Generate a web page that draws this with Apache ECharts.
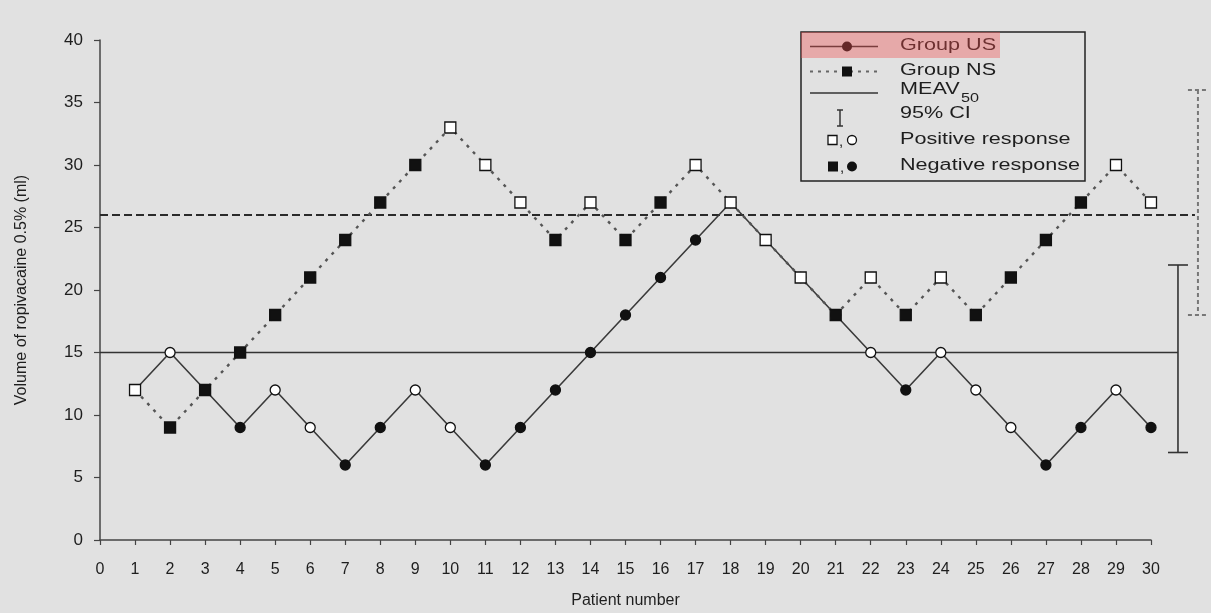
<!DOCTYPE html>
<html>
<head>
<meta charset="utf-8">
<script src="https://cdn.jsdelivr.net/npm/echarts@6/dist/echarts.min.js"></script>
<style>
  html, body { margin: 0; padding: 0; background: #e1e1e1; }
  #chart { width: 1211px; height: 613px; }
</style>
</head>
<body>
<div id="chart"></div>
<script>
// Up-and-down sequence of ropivacaine volumes per patient
const patientNumbers = [1, 2, 3, 4, 5, 6, 7, 8, 9, 10, 11, 12, 13, 14, 15,
                        16, 17, 18, 19, 20, 21, 22, 23, 24, 25, 26, 27, 28, 29, 30];
const usVolume = [12, 15, 12, 9, 12, 9, 6, 9, 12, 9, 6, 9, 12, 15, 18,
                  21, 24, 27, 24, 21, 18, 15, 12, 15, 12, 9, 6, 9, 12, 9];
// 1 = positive response (open marker), 0 = negative response (filled marker)
const usPositive = [1, 1, 0, 0, 1, 1, 0, 0, 1, 1, 0, 0, 0, 0, 0,
                    0, 0, 1, 1, 1, 0, 1, 0, 1, 1, 1, 0, 0, 1, 0];
const nsVolume = [12, 9, 12, 15, 18, 21, 24, 27, 30, 33, 30, 27, 24, 27, 24,
                  27, 30, 27, 24, 21, 18, 21, 18, 21, 18, 21, 24, 27, 30, 27];
const nsPositive = [1, 0, 0, 0, 0, 0, 0, 0, 0, 1, 1, 1, 0, 1, 0,
                    0, 1, 1, 1, 1, 0, 1, 0, 1, 0, 0, 0, 0, 1, 1];
// MEAV50 and its 95% confidence interval per group
const usMeav = 15;
const usCI = [7, 22];
const nsMeav = 26;
const nsCI = [18, 36];
const yTicks = [0, 5, 10, 15, 20, 25, 30, 35, 40];

const INK = '#1e1e1e';
const FONT = '"Liberation Sans", Arial, sans-serif';

function points(values, positive) {
  return patientNumbers.map((p, i) => ({
    value: [p, values[i]],
    itemStyle: { color: positive[i] ? '#ffffff' : '#111111' }
  }));
}

// horizontal positions of the CI bars, just right of the last patient
const US_CI_X = 30.77;
const NS_CI_X = 31.34;

// each entry: MEAV50, CI low, CI high, bar position, group
const summaryData = [
  { value: [usMeav, usCI[0], usCI[1], US_CI_X], group: 'us' },
  { value: [nsMeav, nsCI[0], nsCI[1], NS_CI_X], group: 'ns' }
];

const chart = echarts.init(document.getElementById('chart'), null, { renderer: 'canvas' });

const legendX = 801, legendY = 32;
const txt = (x, y, text, size) => ({
  type: 'text', x: x, y: y, scaleX: 1.35,
  style: { text: text, x: 0, y: 0, fill: INK, font: size + 'px ' + FONT, verticalAlign: 'middle', align: 'left' }
});

chart.setOption({
  backgroundColor: '#e1e1e1',
  animation: false,
  grid: { left: 100, top: 40, width: 1051, height: 500, containLabel: false, outerBoundsMode: 'none' },
  xAxis: {
    type: 'value', min: 0, max: 30, interval: 1,
    name: 'Patient number', nameLocation: 'middle', nameGap: 53,
    nameTextStyle: { fontSize: 16, color: INK, fontFamily: FONT },
    axisLine: { show: true, lineStyle: { color: '#444', width: 1.5 } },
    axisTick: { show: true, length: 5, lineStyle: { color: '#444', width: 1.2 } },
    axisLabel: { fontSize: 16, color: INK, fontFamily: FONT, margin: 22, hideOverlap: false, showMinLabel: true, showMaxLabel: true },
    splitLine: { show: false }
  },
  yAxis: {
    type: 'value', min: yTicks[0], max: yTicks[yTicks.length - 1], interval: 5,
    name: 'Volume of ropivacaine 0.5% (ml)', nameLocation: 'middle', nameGap: 70, nameRotate: 90,
    nameTextStyle: { fontSize: 16, color: INK, fontFamily: FONT },
    axisLine: { show: true, lineStyle: { color: '#444', width: 1.5 } },
    axisTick: { show: true, length: 6, lineStyle: { color: '#444', width: 1.2 } },
    axisLabel: { fontSize: 17, color: INK, fontFamily: FONT, margin: 17, showMinLabel: true, showMaxLabel: true },
    splitLine: { show: false }
  },
  series: [
    {
      // MEAV50 reference lines with their 95% CI bars
      name: 'MEAV50', type: 'custom', clip: false, silent: true, z: 1,
      data: summaryData,
      renderItem: function (params, api) {
        const meav = api.value(0), lo = api.value(1), hi = api.value(2), bx = api.value(3);
        const start = api.coord([0, meav]);
        const end = api.coord([bx, meav]);
        const top = api.coord([bx, hi]);
        const bottom = api.coord([bx, lo]);
        const isNs = summaryData[params.dataIndex].group === 'ns';
        const meavStyle = isNs
          ? { stroke: '#2a2a2a', lineWidth: 2, lineDash: [8, 4] }
          : { stroke: '#333', lineWidth: 1.5 };
        const ciStyle = isNs
          ? { stroke: '#777', lineWidth: 2, lineDash: [4, 3] }
          : { stroke: '#333', lineWidth: 1.6 };
        const half = 10;
        return {
          type: 'group',
          children: [
            { type: 'line', shape: { x1: start[0], y1: start[1], x2: end[0] - (isNs ? 3 : 0), y2: end[1] }, style: meavStyle },
            { type: 'line', shape: { x1: top[0], y1: top[1], x2: bottom[0], y2: bottom[1] }, style: ciStyle },
            { type: 'line', shape: { x1: top[0] - half, y1: top[1], x2: top[0] + half, y2: top[1] }, style: ciStyle },
            { type: 'line', shape: { x1: bottom[0] - half, y1: bottom[1], x2: bottom[0] + half, y2: bottom[1] }, style: ciStyle }
          ]
        };
      }
    },
    {
      name: 'Group US', type: 'line', z: 3,
      data: points(usVolume, usPositive),
      symbol: 'circle', symbolSize: 10, showAllSymbol: true,
      itemStyle: { borderColor: '#111', borderWidth: 1.3 },
      lineStyle: { color: '#3a3a3a', width: 1.6 }
    },
    {
      name: 'Group NS', type: 'line', z: 4,
      data: points(nsVolume, nsPositive),
      symbol: 'rect', symbolSize: 11, showAllSymbol: true,
      itemStyle: { borderColor: '#111', borderWidth: 1.3 },
      lineStyle: { color: '#555', width: 2.4, type: [3, 6] }
    }
  ],
  graphic: [
    {
      type: 'group', z: 10,
      children: [
        { type: 'rect', shape: { x: legendX, y: legendY, width: 284, height: 149 },
          style: { fill: 'none', stroke: '#222', lineWidth: 1.5 } },
        // Group US sample
        { type: 'line', shape: { x1: 810, y1: 46.5, x2: 878, y2: 46.5 }, style: { stroke: '#333', lineWidth: 1.5 } },
        { type: 'circle', shape: { cx: 847, cy: 46.5, r: 5 }, style: { fill: '#111' } },
        txt(900, 46, 'Group US', 16),
        // Group NS sample
        { type: 'line', shape: { x1: 810, y1: 71.5, x2: 878, y2: 71.5 }, style: { stroke: '#666', lineWidth: 2, lineDash: [3, 5] } },
        { type: 'rect', shape: { x: 842, y: 66.5, width: 10, height: 10 }, style: { fill: '#111' } },
        txt(900, 71, 'Group NS', 16),
        // MEAV50 sample
        { type: 'line', shape: { x1: 810, y1: 93, x2: 878, y2: 93 }, style: { stroke: '#333', lineWidth: 1.5 } },
        txt(900, 90, 'MEAV', 16),
        txt(961, 99, '50', 12),
        // 95% CI sample
        { type: 'line', shape: { x1: 840, y1: 110, x2: 840, y2: 126 }, style: { stroke: '#333', lineWidth: 1.5 } },
        { type: 'line', shape: { x1: 837, y1: 110, x2: 843, y2: 110 }, style: { stroke: '#333', lineWidth: 1.5 } },
        { type: 'line', shape: { x1: 837, y1: 126, x2: 843, y2: 126 }, style: { stroke: '#333', lineWidth: 1.5 } },
        txt(900, 114, '95% CI', 16),
        // positive response markers
        { type: 'rect', shape: { x: 828, y: 135.5, width: 9, height: 9 }, style: { fill: '#fff', stroke: '#111', lineWidth: 1.3 } },
        { type: 'text', x: 839, y: 142, style: { text: ',', font: '15px ' + FONT, fill: INK, verticalAlign: 'middle' } },
        { type: 'circle', shape: { cx: 852, cy: 140, r: 4.5 }, style: { fill: '#fff', stroke: '#111', lineWidth: 1.3 } },
        txt(900, 140, 'Positive response', 16),
        // negative response markers
        { type: 'rect', shape: { x: 828, y: 161.5, width: 10, height: 10 }, style: { fill: '#111' } },
        { type: 'text', x: 840, y: 168, style: { text: ',', font: '15px ' + FONT, fill: INK, verticalAlign: 'middle' } },
        { type: 'circle', shape: { cx: 852, cy: 166.5, r: 5 }, style: { fill: '#111' } },
        txt(900, 166, 'Negative response', 16),
        // highlight over the first legend row
        { type: 'rect', z: 20, shape: { x: legendX, y: legendY, width: 199, height: 26 },
          style: { fill: 'rgba(238,80,80,0.38)' } }
      ]
    }
  ]
});
</script>
</body>
</html>
